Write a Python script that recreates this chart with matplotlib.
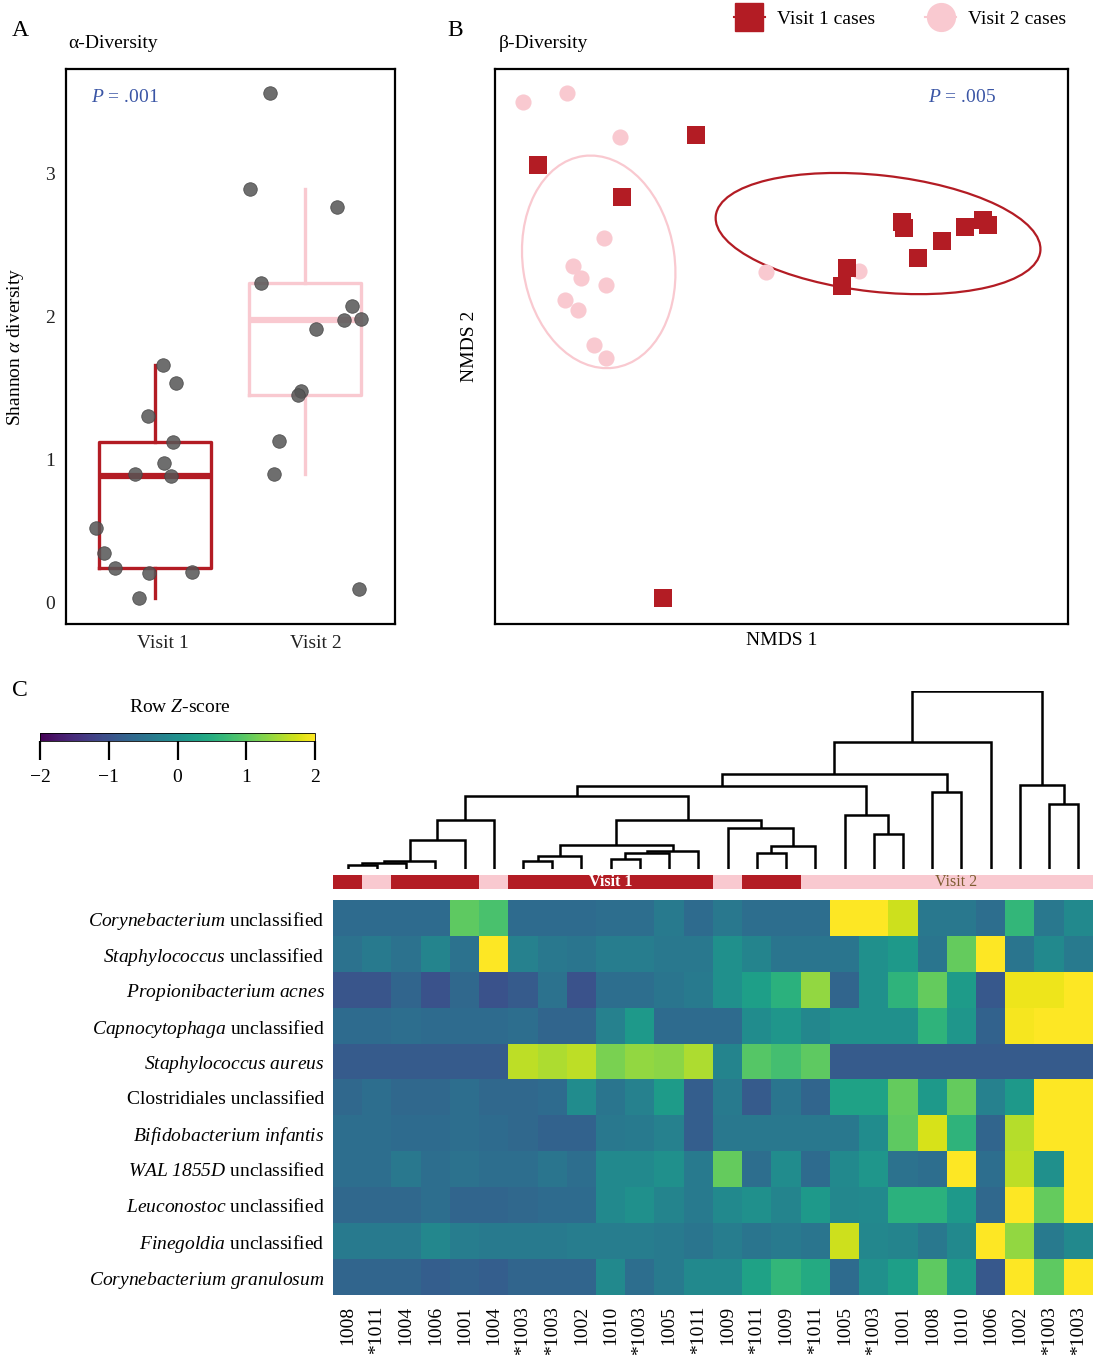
import numpy as np
import matplotlib
matplotlib.use('Agg')
import matplotlib.pyplot as plt
from matplotlib.patches import Ellipse
from matplotlib.lines import Line2D
from matplotlib.colors import ListedColormap, Normalize
import matplotlib as mpl

plt.rcParams['font.family'] = ['Liberation Serif', 'DejaVu Serif']
plt.rcParams['mathtext.fontset'] = 'custom'
plt.rcParams['mathtext.rm'] = 'Liberation Serif'
plt.rcParams['mathtext.it'] = 'Liberation Serif:italic'
plt.rcParams['mathtext.bf'] = 'Liberation Serif:italic'

# ---------------- data ----------------
# Panel A: Shannon alpha diversity (jittered x positions)
visit1_shannon = [1.66, 1.535, 1.30, 1.12, 0.975, 0.90, 0.88, 0.52, 0.345, 0.24, 0.20, 0.21, 0.03]
visit1_jitter = [1.053, 1.14, 0.953, 1.12, 1.06, 0.867, 1.107, 0.607, 0.66, 0.733, 0.96, 1.247, 0.893]
visit2_shannon = [3.57, 2.895, 2.77, 2.235, 2.075, 1.975, 1.985, 1.915, 1.48, 1.45, 1.13, 0.90, 0.09]
visit2_jitter = [1.767, 1.633, 2.213, 1.707, 2.313, 2.26, 2.373, 2.073, 1.973, 1.953, 1.827, 1.793, 2.36]
group_labels = ["Visit 1", "Visit 2"]

# Panel B: NMDS coordinates
v1_nmds1 = [-0.850, -0.298, -0.557, 0.421, 0.428, 0.641, 0.703, 0.721, 0.560, 0.476, 0.229, 0.211, -0.414]
v1_nmds2 = [0.654, 0.762, 0.539, 0.449, 0.427, 0.431, 0.456, 0.438, 0.380, 0.319, 0.283, 0.218, -0.906]
v2_nmds1 = [-0.902, -0.749, -0.564, -0.620, -0.728, -0.700, -0.613, -0.756, -0.710, -0.654, -0.613, -0.054, 0.271]
v2_nmds2 = [0.881, 0.914, 0.755, 0.391, 0.290, 0.247, 0.222, 0.168, 0.132, 0.005, -0.041, 0.268, 0.272]
# ellipses: center x, center y, width, height, angle
v1_ellipse = [0.337, 0.407, 1.14, 0.42, -6.5]
v2_ellipse = [-0.638, 0.305, 0.53, 0.77, 8.0]

# Panel C: heatmap
taxa = [r"$\mathbf{Corynebacterium}$ unclassified",
        r"$\mathbf{Staphylococcus}$ unclassified",
        r"$\mathbf{Propionibacterium\ acnes}$",
        r"$\mathbf{Capnocytophaga}$ unclassified",
        r"$\mathbf{Staphylococcus\ aureus}$",
        "Clostridiales unclassified",
        r"$\mathbf{Bifidobacterium\ infantis}$",
        r"$\mathbf{WAL\ 1855D}$ unclassified",
        r"$\mathbf{Leuconostoc}$ unclassified",
        r"$\mathbf{Finegoldia}$ unclassified",
        r"$\mathbf{Corynebacterium\ granulosum}$"]
samples = ["1008", "*1011", "1004", "1006", "1001", "1004", "*1003", "*1003", "1002", "1010",
           "*1003", "1005", "*1011", "1009", "*1011", "1009", "*1011", "1005", "*1003", "1001",
           "1008", "1010", "1006", "1002", "*1003", "*1003"]
sample_visit = [1, 2, 1, 1, 1, 2, 1, 1, 1, 1, 1, 1, 1, 2, 1, 1, 2, 2, 2, 2, 2, 2, 2, 2, 2, 2]
zscores = [
 [-0.6, -0.6, -0.6, -0.6, 1.0, 0.85, -0.6, -0.6, -0.6, -0.55, -0.55, -0.35, -0.6, -0.4, -0.55, -0.55, -0.55, 2.0, 2.0, 1.7, -0.4, -0.4, -0.55, 0.65, -0.4, -0.1],
 [-0.5, -0.35, -0.5, -0.2, -0.5, 2.0, -0.25, -0.4, -0.45, -0.3, -0.3, -0.4, -0.4, 0.0, -0.2, -0.45, -0.45, -0.45, 0.0, 0.15, -0.45, 1.05, 2.0, -0.45, -0.1, -0.35],
 [-0.95, -0.95, -0.7, -1.0, -0.65, -1.0, -0.85, -0.5, -1.0, -0.55, -0.55, -0.45, -0.35, 0.0, 0.25, 0.55, 1.35, -0.7, 0.0, 0.6, 1.05, 0.2, -0.9, 1.9, 1.9, 2.0],
 [-0.6, -0.6, -0.55, -0.6, -0.6, -0.6, -0.55, -0.7, -0.7, -0.25, 0.15, -0.6, -0.6, -0.6, -0.05, 0.1, -0.15, 0.0, 0.0, 0.0, 0.6, 0.1, -0.75, 1.95, 2.0, 2.0],
 [-0.85, -0.85, -0.85, -0.85, -0.85, -0.85, 1.6, 1.5, 1.6, 1.2, 1.35, 1.3, 1.5, -0.2, 0.95, 0.8, 1.0, -0.85, -0.85, -0.85, -0.85, -0.85, -0.85, -0.85, -0.85, -0.85],
 [-0.65, -0.55, -0.65, -0.65, -0.55, -0.65, -0.65, -0.6, -0.05, -0.45, -0.25, 0.2, -0.8, -0.35, -0.85, -0.45, -0.7, 0.3, 0.3, 1.05, 0.15, 1.05, -0.25, 0.15, 2.0, 2.0],
 [-0.55, -0.55, -0.6, -0.6, -0.55, -0.6, -0.65, -0.75, -0.75, -0.4, -0.35, -0.25, -0.8, -0.4, -0.4, -0.4, -0.4, -0.4, -0.05, 1.0, 1.75, 0.6, -0.7, 1.55, 2.0, 2.0],
 [-0.55, -0.55, -0.4, -0.55, -0.5, -0.55, -0.55, -0.45, -0.55, -0.1, -0.1, 0.0, -0.35, 1.05, -0.55, -0.05, -0.6, -0.1, 0.1, -0.5, -0.55, 2.0, -0.55, 1.6, 0.0, 2.0],
 [-0.65, -0.65, -0.65, -0.55, -0.7, -0.7, -0.65, -0.6, -0.6, -0.1, 0.0, -0.2, -0.35, -0.1, 0.0, -0.2, 0.15, -0.15, -0.1, 0.55, 0.55, 0.15, -0.65, 2.0, 1.05, 2.0],
 [-0.35, -0.35, -0.35, -0.15, -0.3, -0.35, -0.35, -0.35, -0.3, -0.3, -0.3, -0.35, -0.45, -0.3, -0.45, -0.35, -0.45, 1.7, -0.15, -0.2, -0.4, -0.1, 2.0, 1.35, -0.35, -0.1],
 [-0.7, -0.7, -0.7, -0.8, -0.75, -0.8, -0.7, -0.7, -0.7, -0.1, -0.55, -0.35, -0.1, -0.1, 0.3, 0.65, 0.45, -0.6, 0.0, 0.25, 1.0, 0.15, -0.9, 2.0, 1.0, 2.0],
]
# dendrogram merges: (child a, child b, height); ids >= 26 refer to earlier merges
merge_a = [0, 26, 27, 28, 29, 6, 31, 9, 33, 34, 32, 14, 37, 13, 36, 30, 18, 17, 41, 20, 44, 46, 24, 23, 47]
merge_b = [1, 2, 3, 4, 5, 7, 8, 10, 11, 12, 35, 15, 16, 38, 39, 40, 19, 42, 43, 21, 45, 22, 25, 48, 49]
merge_h = [0.13, 0.18, 0.23, 0.88, 1.46, 0.23, 0.40, 0.30, 0.48, 0.53, 0.71, 0.48, 0.70, 1.23, 1.46,
           2.18, 1.05, 1.61, 2.50, 2.30, 2.85, 3.83, 1.95, 2.52, 5.35]
cbar_ticks = [-2, -1, 0, 1, 2]

# ---------------- style ----------------
RED = '#b31c24'
PINK = '#f9c9d0'
BLUE = '#3a55a5'
W, H = 1093, 1358
fig = plt.figure(figsize=(W / 100, H / 100), dpi=100)


def add_ax(x0, y0, x1, y1):
    return fig.add_axes([x0 / W, 1 - y1 / H, (x1 - x0) / W, (y1 - y0) / H])


def px_text(x, y, s, **kw):
    fig.text(x / W, 1 - y / H, s, **kw)


# ---------------- Panel A ----------------
axA = add_ax(66, 69, 395, 624)
bp = axA.boxplot([visit1_shannon, visit2_shannon], positions=[1, 2], widths=0.75,
                 showfliers=False, showcaps=False, patch_artist=False, whis=1.5)
for i, c in enumerate([RED, PINK]):
    bp['boxes'][i].set_color(c); bp['boxes'][i].set_linewidth(2.4)
    for w in bp['whiskers'][2 * i:2 * i + 2]:
        w.set_color(c); w.set_linewidth(2.4)
    bp['medians'][i].set_color(c); bp['medians'][i].set_linewidth(4.5)
axA.scatter(visit1_jitter, visit1_shannon, s=95, color='#555555', alpha=0.85,
            edgecolors='#444444', linewidths=0.6, zorder=5)
axA.scatter(visit2_jitter, visit2_shannon, s=95, color='#555555', alpha=0.85,
            edgecolors='#444444', linewidths=0.6, zorder=5)
axA.set_xlim(0.407, 2.6)
axA.set_ylim(-0.154, 3.735)
axA.set_yticks([0, 1, 2, 3])
axA.set_xticks([1.05, 2.07])
axA.set_xticklabels(group_labels)
axA.tick_params(length=0, labelsize=14, pad=8, labelcolor='#222222')
axA.set_ylabel(r"Shannon $\alpha$ diversity", fontsize=14, labelpad=14)
for sp in axA.spines.values():
    sp.set_linewidth(1.6)
axA.text(0.075, 0.948, r"$\mathit{P}$ = .001", transform=axA.transAxes, color=BLUE,
         fontsize=14, va='center')

px_text(12, 30, "A", fontsize=17, va='center')
px_text(68, 44, "α-Diversity", fontsize=14, va='center')

# ---------------- Panel B ----------------
axB = add_ax(495, 69, 1068, 624)
axB.add_patch(Ellipse((v2_ellipse[0], v2_ellipse[1]), v2_ellipse[2], v2_ellipse[3], angle=v2_ellipse[4],
                      fill=False, edgecolor=PINK, linewidth=1.6))
axB.add_patch(Ellipse((v1_ellipse[0], v1_ellipse[1]), v1_ellipse[2], v1_ellipse[3], angle=v1_ellipse[4],
                      fill=False, edgecolor=RED, linewidth=1.6))
axB.scatter(v2_nmds1, v2_nmds2, s=135, marker='o', color=PINK, linewidths=0, zorder=3)
axB.scatter(v1_nmds1, v1_nmds2, s=155, marker='s', color=RED, linewidths=0, zorder=4)
axB.set_xlim(-1, 1)
axB.set_ylim(-1, 1)
axB.set_xticks([]); axB.set_yticks([])
for sp in axB.spines.values():
    sp.set_linewidth(1.6)
axB.set_xlabel("NMDS 1", fontsize=14, labelpad=6)
axB.set_ylabel("NMDS 2", fontsize=14, labelpad=12)
axB.text(0.755, 0.948, r"$\mathit{P}$ = .005", transform=axB.transAxes, color=BLUE,
         fontsize=14, va='center')
px_text(447, 30, "B", fontsize=17, va='center')
px_text(499, 44, "β-Diversity", fontsize=14, va='center')

handles = [Line2D([0], [0], color=RED, marker='s', markersize=20, linewidth=1.5),
           Line2D([0], [0], color=PINK, marker='o', markersize=20, linewidth=1.5)]
fig.legend(handles, ["Visit 1 cases", "Visit 2 cases"], loc='center',
           bbox_to_anchor=(900 / W, 1 - 19 / H), ncol=2, frameon=False, fontsize=14,
           handlelength=1.6, handletextpad=0.6, columnspacing=2.6)

# ---------------- Panel C ----------------
px_text(12, 691, "C", fontsize=17, va='center')
cax = add_ax(40, 733, 315, 741)
cb = mpl.colorbar.ColorbarBase(cax, cmap='viridis', norm=Normalize(-2, 2), orientation='horizontal',
                               ticks=cbar_ticks)
cb.outline.set_linewidth(0.6)
cax.tick_params(direction='out', length=14, width=1.6, labelsize=14, pad=6)
cax.set_xticklabels([str(t).replace('-', '\u2212') for t in cbar_ticks])
px_text(180, 707, r"Row $\mathit{Z}$-score", fontsize=14, ha='center', va='center')

ncol = len(samples)
# heatmap
axH = add_ax(333, 900, 1093, 1295)
Z = np.array(zscores)
axH.imshow(Z, cmap='viridis', vmin=-2, vmax=2, aspect='auto', interpolation='nearest')
axH.set_xticks(range(ncol))
axH.set_xticklabels(samples, rotation=90, fontsize=14)
axH.set_yticks(range(len(taxa)))
axH.set_yticklabels(taxa, fontsize=14)
axH.tick_params(length=0, pad=8)
axH.tick_params(axis='y', pad=6)
for sp in axH.spines.values():
    sp.set_visible(False)

# visit colour bar
axV = add_ax(333, 875, 1093, 889)
axV.imshow(np.array([sample_visit]), cmap=ListedColormap([RED, PINK]), vmin=1, vmax=2,
           aspect='auto', interpolation='nearest')
axV.set_axis_off()
runs = []
start = 0
for i in range(1, ncol + 1):
    if i == ncol or sample_visit[i] != sample_visit[start]:
        runs.append((start, i - 1, sample_visit[start]))
        start = i
for v, col in [(1, 'white'), (2, '#7d5c30')]:
    r = max([r for r in runs if r[2] == v], key=lambda r: r[1] - r[0])
    axV.text((r[0] + r[1]) / 2 + (0 if v == 1 else 0.3), 0, "Visit %d" % v, color=col, fontsize=11.5,
             ha='center', va='center', fontweight='bold' if v == 1 else 'normal')

# dendrogram
axD = add_ax(333, 691, 1093, 869)
pos = {i: float(i) for i in range(ncol)}
hgt = {i: 0.0 for i in range(ncol)}
for k, (a, b, h) in enumerate(zip(merge_a, merge_b, merge_h)):
    nid = ncol + k
    xa, xb = pos[a], pos[b]
    axD.plot([xa, xa, xb, xb], [hgt[a], h, h, hgt[b]], color='black', lw=1.8,
             solid_joinstyle='miter', solid_capstyle='butt')
    pos[nid] = (xa + xb) / 2
    hgt[nid] = h
axD.set_xlim(-0.5, ncol - 0.5)
axD.set_ylim(0, max(merge_h))
axD.set_axis_off()

fig.savefig('out.png', dpi=100)
